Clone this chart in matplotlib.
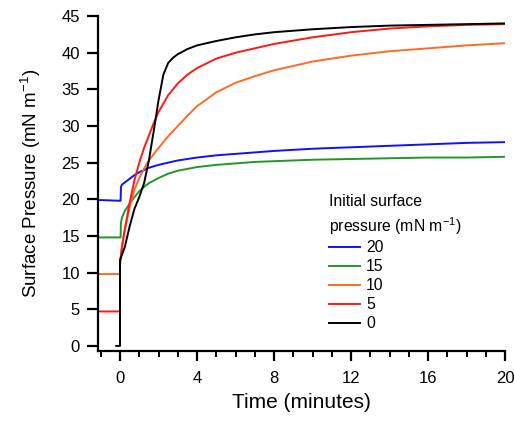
import matplotlib
matplotlib.use("Agg")
import matplotlib.pyplot as plt
from matplotlib.ticker import MultipleLocator

plt.rcParams['font.family'] = ['Liberation Sans', 'DejaVu Sans']

# time (minutes) and surface pressure (mN/m)
t_20 = [-1.05, 0.03, 0.05, 0.1, 0.25, 0.5, 0.75, 1, 1.25, 1.5, 2, 2.5, 3, 4, 5, 6, 7, 8, 10, 12, 14, 16, 18, 20]
p_20 = [19.9, 19.8, 21.7, 22.0, 22.3, 22.8, 23.3, 23.7, 24.0, 24.3, 24.7, 25.0, 25.3, 25.7, 26.0, 26.2, 26.4,
        26.6, 26.9, 27.1, 27.3, 27.5, 27.7, 27.8]

t_15 = [-1.05, 0.03, 0.05, 0.1, 0.25, 0.5, 0.75, 1, 1.25, 1.5, 2, 2.5, 3, 4, 5, 6, 7, 8, 10, 12, 14, 16, 18, 20]
p_15 = [14.8, 14.8, 16.8, 17.5, 18.4, 19.4, 20.3, 21.1, 21.7, 22.2, 22.9, 23.5, 23.9, 24.4, 24.7, 24.9, 25.1,
        25.2, 25.4, 25.5, 25.6, 25.7, 25.7, 25.8]

t_10 = [-1.05, 0, 0, 0.1, 0.25, 0.5, 0.75, 1, 1.25, 1.5, 2, 2.5, 3, 3.5, 4, 5, 6, 7, 8, 10, 12, 14, 16, 18, 20]
p_10 = [9.8, 9.8, 11.5, 13.5, 15.8, 18.9, 21.3, 22.9, 24.2, 25.3, 27.0, 28.6, 30.0, 31.4, 32.7, 34.6, 35.9,
        36.8, 37.6, 38.8, 39.6, 40.2, 40.6, 41.0, 41.3]

t_5 = [-1.05, 0, 0, 0.1, 0.25, 0.5, 0.75, 1, 1.25, 1.5, 1.75, 2, 2.5, 3, 3.5, 4, 5, 6, 7, 8, 10, 12, 14, 16,
       18, 20]
p_5 = [4.7, 4.7, 11.0, 13.5, 15.9, 19.5, 22.6, 25.0, 27.0, 28.7, 30.4, 31.9, 34.2, 35.8, 37.0, 37.9, 39.2,
       40.0, 40.6, 41.2, 42.1, 42.8, 43.3, 43.6, 43.8, 43.9]

t_0 = [-0.2, 0, 0, 0.25, 0.5, 0.75, 1, 1.25, 1.5, 1.75, 2, 2.25, 2.5, 2.75, 3, 3.5, 4, 5, 6, 7, 8, 10, 12, 14,
       16, 18, 20]
p_0 = [0.0, 0.0, 11.7, 13.5, 16.3, 18.7, 20.3, 22.2, 25.3, 29.3, 33.5, 37.0, 38.6, 39.3, 39.8, 40.5, 41.0,
       41.6, 42.1, 42.5, 42.8, 43.2, 43.5, 43.7, 43.8, 43.9, 44.0]

labels = ['20', '15', '10', '5', '0']
colors = ['#1010ff', '#23962a', '#ff6a28', '#ff1818', '#000000']

fig = plt.figure(figsize=(5.15, 4.23), dpi=100)
ax = fig.add_axes([0.190, 0.171, 0.791, 0.791])

series = [(t_20, p_20), (t_15, p_15), (t_10, p_10), (t_5, p_5), (t_0, p_0)]
for (t, p), lab, col in zip(series, labels, colors):
    ax.plot(t, p, color=col, lw=1.4, label=lab)

ax.set_xlim(-1.15, 20)
ax.set_ylim(-0.65, 45)
ax.xaxis.set_major_locator(MultipleLocator(4))
ax.xaxis.set_minor_locator(MultipleLocator(1))
ax.yaxis.set_major_locator(MultipleLocator(5))

for s in ['top', 'right']:
    ax.spines[s].set_visible(False)
for s in ['left', 'bottom']:
    ax.spines[s].set_linewidth(1.6)

ax.tick_params(axis='y', which='major', length=8, width=1.6, labelsize=12, pad=5)
ax.tick_params(axis='x', which='major', length=7.5, width=1.6, labelsize=12, pad=7)
ax.tick_params(axis='x', which='minor', length=4.5, width=1.4)

ax.set_xlabel('Time (minutes)', fontsize=15, labelpad=5)
ax.set_ylabel('Surface Pressure (mN m$^{\\mathregular{-1}}$)', fontsize=13.5)
ax.yaxis.set_label_coords(-0.135, 0.5)

leg = ax.legend(title='Initial surface\npressure (mN m$^{\\mathregular{-1}}$)', frameon=False,
                fontsize=11.3, title_fontsize=11.3, alignment='left',
                loc='upper left', bbox_to_anchor=(329 / 515, 1 - 194 / 423),
                bbox_transform=fig.transFigure, borderpad=0, borderaxespad=0,
                handlelength=2.0, handletextpad=0.35, labelspacing=0.25)
leg.get_title().set_linespacing(1.35)

fig.savefig('out.png', dpi=100)
